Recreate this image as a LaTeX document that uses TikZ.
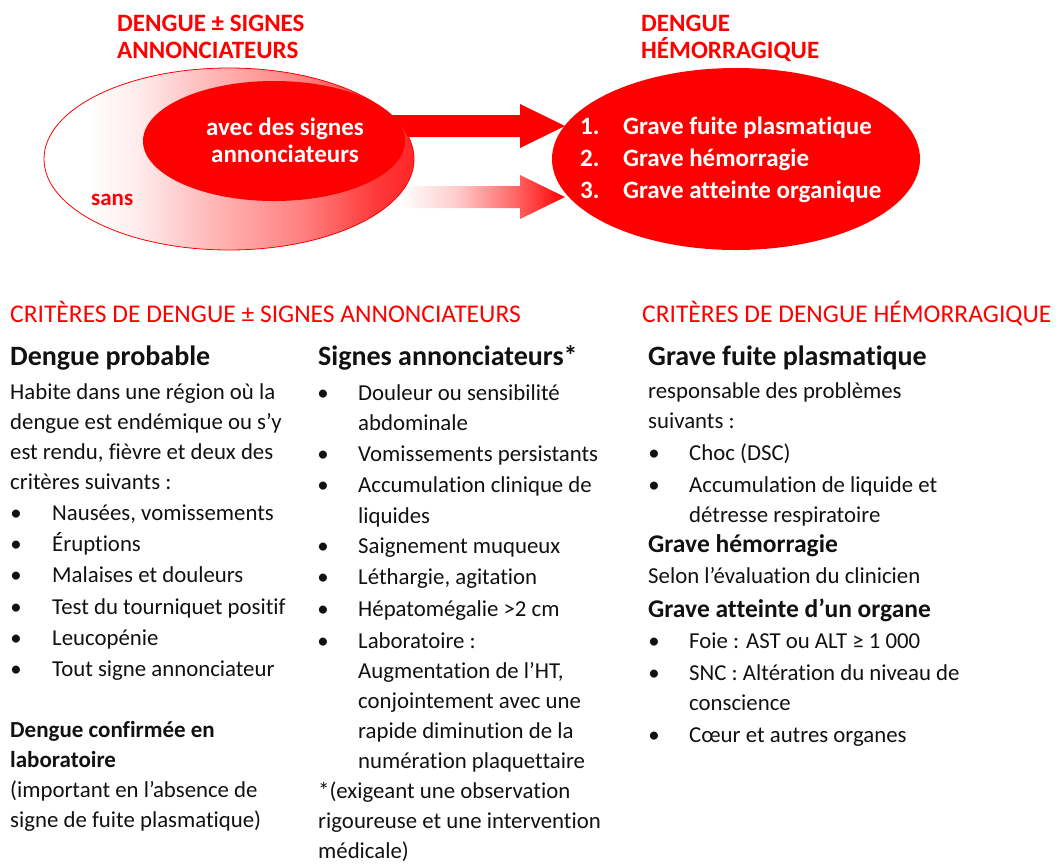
\documentclass[tikz,border=0pt]{standalone}
\usepackage{fontspec}
\setmainfont{Carlito}[Ligatures=NoCommon]
\usetikzlibrary{shapes.geometric}
\definecolor{rd}{HTML}{FF0000}
\definecolor{txt}{HTML}{111111}
\pgfdeclarehorizontalshading{outershade}{100bp}{color(0bp)=(white); color(31bp)=(white); color(38bp)=(rd!8); color(46bp)=(rd!25); color(60bp)=(rd!50); color(70bp)=(rd!78); color(75bp)=(rd!85); color(100bp)=(rd!85)}
\pgfdeclarehorizontalshading{arrowshade}{100bp}{color(0bp)=(white); color(25bp)=(white); color(42bp)=(rd!20); color(60bp)=(rd!60); color(75bp)=(rd); color(100bp)=(rd)}
\begin{document}
\begin{tikzpicture}[x=1pt,y=-1pt,
 body/.style={anchor=base west,inner sep=0pt,text=txt,font=\fontsize{22.8}{27}\selectfont},
 bhead/.style={anchor=base west,inner sep=0pt,text=txt,font=\fontsize{28}{32}\selectfont\bfseries},
 bsub/.style={anchor=base west,inner sep=0pt,text=txt,font=\fontsize{23}{27}\selectfont\bfseries},
 csub/.style={anchor=base west,inner sep=0pt,text=txt,font=\fontsize{25.5}{29}\selectfont\bfseries},
 rhead/.style={anchor=base west,inner sep=0pt,text=rd,font=\fontsize{25.5}{29}\selectfont},
 toptitle/.style={anchor=base west,inner sep=0pt,text=rd,font=\fontsize{25}{29}\selectfont\bfseries},
 wtext/.style={inner sep=0pt,text=white,font=\fontsize{25}{29}\selectfont\bfseries},
 bul/.style={anchor=base,inner sep=0pt,text=txt,font=\fontsize{22.8}{27}\selectfont},
]
\useasboundingbox (0,0) rectangle (1059,863);

% ---- block arrows (behind the ellipses)
\fill[rd] (380,115) -- (520,115) -- (520,104) -- (565,126) -- (520,148) -- (520,137) -- (380,137) -- cycle;
\shade[shading=arrowshade] (400,186) -- (520,186) -- (520,175) -- (565,197) -- (520,219) -- (520,208) -- (400,208) -- cycle;

% ---- ellipses
\node[ellipse,draw=rd,line width=0.8pt,shading=outershade,minimum width=370pt,minimum height=182pt,inner sep=0pt] (outer) at (229,159) {};
\node[ellipse,fill=rd,minimum width=262pt,minimum height=120pt,inner sep=0pt] (inner) at (274,141) {};
\node[ellipse,fill=rd,minimum width=368pt,minimum height=182pt,inner sep=0pt] (dhf) at (736,159) {};

% ---- top titles
\node[toptitle] (t1a) at (117,31) {DENGUE ± SIGNES};
\node[toptitle] (t1b) at (117,58) {ANNONCIATEURS};
\node[toptitle] (t2a) at (641,31) {DENGUE};
\node[toptitle] (t2b) at (641,58) {HÉMORRAGIQUE};

% ---- texts in ellipses
\node[wtext,anchor=base] (i1) at (285,135) {avec des signes};
\node[wtext,anchor=base] (i2) at (285,162) {annonciateurs};
\node[wtext,anchor=base west,text=rd,font=\fontsize{23}{27}\selectfont\bfseries] (sans) at (91,205) {sans};
\node[wtext,anchor=base west] (n1) at (580,134) {1.};
\node[wtext,anchor=base west] (g1) at (623,134) {Grave fuite plasmatique};
\node[wtext,anchor=base west] (n2) at (580,166) {2.};
\node[wtext,anchor=base west] (g2) at (623,166) {Grave hémorragie};
\node[wtext,anchor=base west] (n3) at (580,198) {3.};
\node[wtext,anchor=base west] (g3) at (623,198) {Grave atteinte organique};

% ---- section headings
\node[rhead] (h1) at (10,322) {CRITÈRES DE DENGUE ± SIGNES ANNONCIATEURS};
\node[rhead] (h2) at (642,322) {CRITÈRES DE DENGUE HÉMORRAGIQUE};

% ---- column 1
\node[bhead] (a0) at (10,365) {Dengue probable};
\node[body] (a1) at (10,399) {Habite dans une région où la};
\node[body] (a2) at (10,429) {dengue est endémique  ou s’y};
\node[body] (a3) at (10,459) {est rendu, fièvre et deux des};
\node[body] (a4) at (10,489) {critères suivants :};
\node[bul] (ab1) at (16,520) {•}; \node[body] (a5) at (52,520) {Nausées, vomissements};
\node[bul] (ab2) at (16,551) {•}; \node[body] (a6) at (52,551) {Éruptions};
\node[bul] (ab3) at (16,582) {•}; \node[body] (a7) at (52,582) {Malaises et douleurs};
\node[bul] (ab4) at (16,614) {•}; \node[body] (a8) at (52,614) {Test du tourniquet positif};
\node[bul] (ab5) at (16,645) {•}; \node[body] (a9) at (52,645) {Leucopénie};
\node[bul] (ab6) at (16,676) {•}; \node[body] (a10) at (52,676) {Tout signe annonciateur};
\node[bsub] (a11) at (10,737) {Dengue confirmée en};
\node[bsub] (a12) at (10,767) {laboratoire};
\node[body] (a13) at (10,797) {(important  en l’absence de};
\node[body] (a14) at (10,827) {signe de fuite plasmatique)};

% ---- column 2
\node[bhead] (b0) at (318,365) {Signes annonciateurs*};
\node[bul] (bb1) at (323,400) {•}; \node[body] (b1) at (358,400) {Douleur ou sensibilité};
\node[body] (b2) at (358,430) {abdominale};
\node[bul] (bb2) at (323,461) {•}; \node[body] (b3) at (358,461) {Vomissements persistants};
\node[bul] (bb3) at (323,492) {•}; \node[body] (b4) at (358,492) {Accumulation clinique de};
\node[body] (b5) at (358,523) {liquides};
\node[bul] (bb4) at (323,553) {•}; \node[body] (b6) at (358,553) {Saignement muqueux};
\node[bul] (bb5) at (323,584) {•}; \node[body] (b7) at (358,584) {Léthargie, agitation};
\node[bul] (bb6) at (323,616) {•}; \node[body] (b8) at (358,616) {Hépatomégalie >2 cm};
\node[bul] (bb7) at (323,648) {•}; \node[body] (b9) at (358,648) {Laboratoire :};
\node[body] (b10) at (358,678) {Augmentation  de l’HT,};
\node[body] (b11) at (358,708) {conjointement  avec une};
\node[body] (b12) at (358,738) {rapide diminution  de la};
\node[body] (b13) at (358,768) {numération  plaquettaire};
\node[body] (b14) at (318,798) {*(exigeant une observation};
\node[body] (b15) at (318,828) {rigoureuse  et une intervention};
\node[body] (b16) at (318,858) {médicale)};

% ---- column 3
\node[bhead] (c0) at (648,365) {Grave fuite plasmatique};
\node[body] (c1) at (648,398) {responsable des problèmes};
\node[body] (c2) at (648,428) {suivants :};
\node[bul] (cb1) at (654,460) {•}; \node[body] (c3) at (689,460) {Choc (DSC)};
\node[bul] (cb2) at (654,492) {•}; \node[body] (c4) at (689,492) {Accumulation de liquide et};
\node[body] (c5) at (689,522) {détresse respiratoire};
\node[csub] (c6) at (648,552) {Grave hémorragie};
\node[body] (c7) at (648,583) {Selon l’évaluation du clinicien};
\node[csub] (c8) at (648,617) {Grave atteinte d’un organe};
\node[bul] (cb3) at (654,648) {•}; \node[body] (c9) at (689,648) {Foie : AST ou ALT ≥ 1 000};
\node[bul] (cb4) at (654,680) {•}; \node[body] (c10) at (689,680) {SNC : Altération du niveau de};
\node[body] (c11) at (689,710) {conscience};
\node[bul] (cb5) at (654,742) {•}; \node[body] (c12) at (689,742) {Cœur et autres organes};
\end{tikzpicture}
\end{document}
